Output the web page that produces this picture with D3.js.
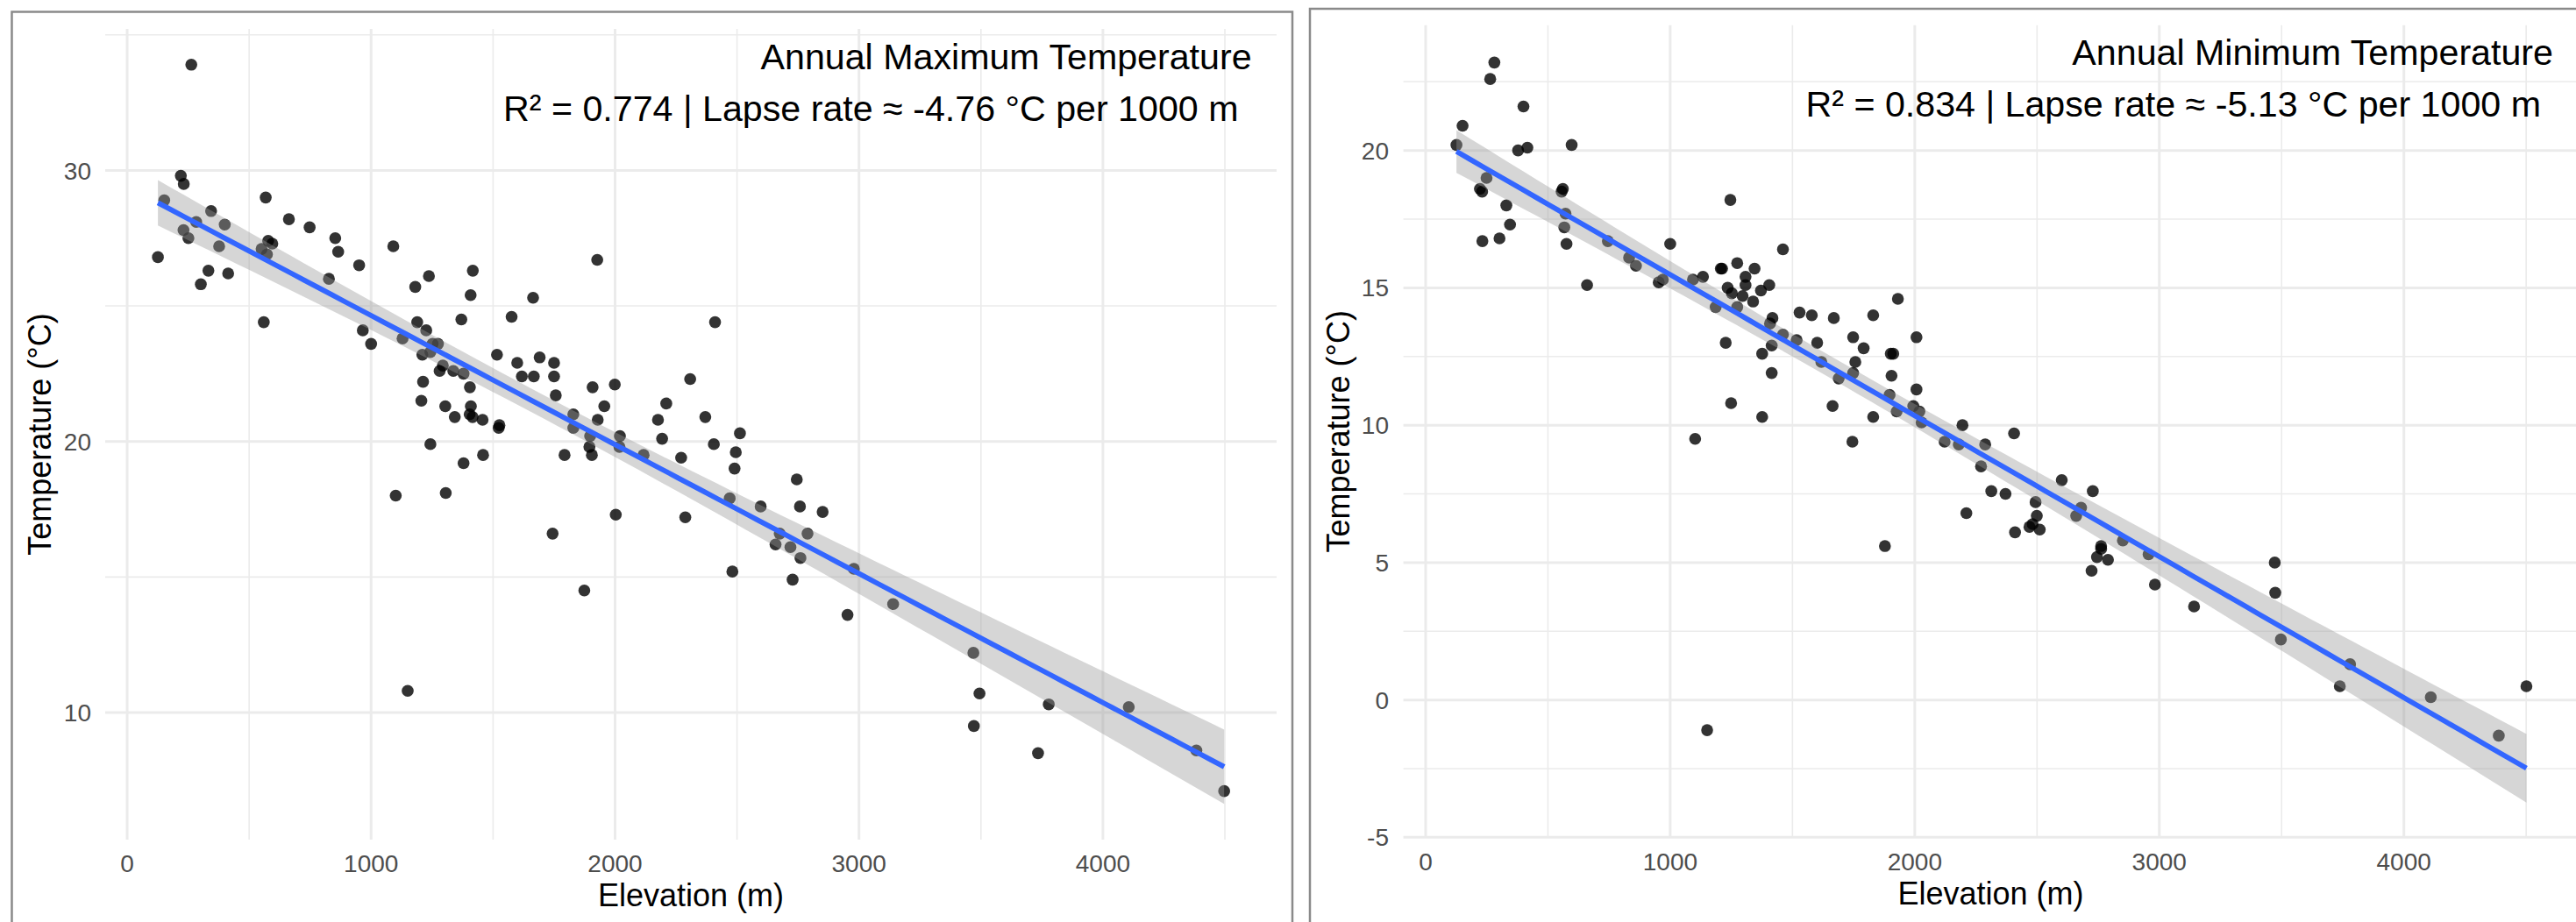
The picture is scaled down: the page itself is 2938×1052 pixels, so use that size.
<!DOCTYPE html>
<html>
<head>
<meta charset="utf-8">
<script src="https://cdnjs.cloudflare.com/ajax/libs/d3/7.8.5/d3.min.js"></script>
<style>
  body { margin: 0; background: #fff; }
  svg { display: block; font-family: "Liberation Sans", Arial, sans-serif; }
  .frame { fill: none; stroke: #8a8a8a; stroke-width: 2.5px; }
  .grid-major { stroke: #ebebeb; stroke-width: 3px; }
  .grid-minor { stroke: #ebebeb; stroke-width: 1.6px; }
  .tick-label { fill: #4d4d4d; font-size: 28px; }
  .axis-title { fill: #000; font-size: 36px; }
  .note { fill: #000; font-size: 41.2px; }
</style>
</head>
<body>
<div id="chart"></div>
<script>
// station elevations (m) and annual temperatures (°C)
const maxElev = [263, 220, 232, 152, 126, 283, 231, 251, 344, 400, 377, 333, 302, 414, 568, 663, 748, 578, 595, 551,
  573, 853, 865, 1091, 951, 827, 560, 1927, 1181, 1237, 1417, 1408, 1664, 966, 1000, 1129, 1370, 1189, 1226, 1576,
  1252, 1274, 1210, 1243, 1294, 1281, 1337, 1379, 1516, 1599, 1691, 1750, 1618, 1667, 1750, 1213, 1405, 1757, 1206, 1304,
  1343, 1409, 1404, 1416, 1457, 1523, 1526, 1243, 1459, 1379, 1829, 1829, 1908, 1999, 1956, 1929, 1898, 2020, 2018, 1895,
  1905, 1793, 2117, 2410, 2308, 2210, 2176, 2370, 2193, 2405, 2512, 2495, 2271, 1101, 1306, 1744, 2003, 1874, 1150, 2490,
  2745, 2470, 2597, 2758, 2851, 2288, 2675, 2658, 2719, 2789, 2760, 2481, 2728, 2979, 2953, 3140, 3469, 3494, 3471, 3778,
  3734, 4106, 4383, 4497];
const maxTemp = [33.9, 29.8, 29.5, 28.9, 26.8, 28.1, 27.8, 27.5, 28.5, 28.0, 27.2, 26.3, 25.8, 26.2, 29.0, 28.2, 27.9, 27.4, 27.3, 27.1,
  26.9, 27.5, 27.0, 27.2, 26.5, 26.0, 24.4, 26.7, 25.7, 26.1, 26.3, 25.4, 25.3, 24.1, 23.6, 23.8, 24.5, 24.4, 24.1, 24.6,
  23.6, 23.6, 23.2, 23.3, 22.8, 22.6, 22.6, 22.5, 23.2, 22.9, 23.1, 22.9, 22.4, 22.4, 22.4, 22.2, 22.0, 21.7, 21.5, 21.3,
  20.9, 21.3, 21.0, 20.9, 20.8, 20.5, 20.6, 19.9, 19.5, 19.2, 21.0, 20.5, 22.0, 22.1, 21.3, 20.8, 20.2, 20.2, 19.8, 19.8,
  19.5, 19.5, 19.5, 24.4, 22.3, 21.4, 20.8, 20.9, 20.1, 19.9, 20.3, 19.6, 19.4, 18.0, 18.1, 16.6, 17.3, 14.5, 10.8, 19.0,
  18.6, 17.9, 17.6, 17.6, 17.4, 17.2, 16.6, 16.2, 16.1, 16.6, 15.7, 15.2, 14.9, 15.3, 13.6, 14.0, 12.2, 10.7, 9.5, 10.3,
  8.5, 10.2, 8.6, 7.1];

const minElev = [281, 264, 400, 151, 126, 378, 416, 597, 249, 222, 231, 330, 345, 232, 302, 561, 556, 572, 567, 576,
  660, 745, 832, 860, 953, 970, 1000, 1093, 1134, 1102, 1186, 1207, 1212, 1246, 1274, 1235, 1252, 1296, 1274, 1308,
  1308, 1345, 1339, 1371, 1405, 1461, 1227, 1249, 1376, 1376, 1415, 1415, 1418, 1408, 1461, 1529, 1579, 1517, 1601, 1618,
  1669, 1689, 1664, 1748, 1757, 1748, 1791, 1830, 1830, 1745, 1931, 1902, 1912, 1905, 1897, 1926, 2007, 2007, 1994, 2019,
  2028, 2195, 2122, 2180, 2288, 2406, 1878, 1151, 2271, 2313, 2371, 2211, 2601, 2728, 2494, 2680, 2660, 2499, 2482, 2469,
  2511, 2410, 2851, 2762, 2762, 2745, 2790, 2723, 2956, 2982, 3142, 3472, 3474, 3497, 3780, 3738, 4110, 4388, 4501];
const minTemp = [23.2, 22.6, 21.6, 20.9, 20.2, 20.0, 20.1, 20.2, 19.0, 18.6, 18.5, 18.0, 17.3, 16.7, 16.8, 18.6, 18.5, 17.7, 17.2, 16.6,
  15.1, 16.7, 16.1, 15.8, 15.2, 15.3, 16.6, 15.3, 15.4, 9.5, 14.3, 15.7, 15.7, 18.2, 15.9, 15.0, 14.8, 14.7, 14.3, 15.4,
  15.1, 15.7, 14.5, 14.9, 15.1, 16.4, 13.0, 10.8, 10.3, 12.6, 12.9, 11.9, 13.9, 13.7, 13.3, 14.1, 14.0, 13.1, 13.0, 12.3,
  13.9, 11.7, 10.7, 13.2, 12.3, 11.9, 12.8, 14.0, 10.3, 9.4, 14.6, 12.6, 12.6, 11.8, 11.1, 10.5, 13.2, 11.3, 10.7, 10.5,
  10.1, 10.0, 9.4, 9.3, 9.3, 9.7, 5.6, -1.1, 8.5, 7.6, 7.5, 6.8, 8.0, 7.6, 7.2, 7.0, 6.7, 6.7, 6.4, 6.3,
  6.2, 6.1, 5.8, 5.6, 5.5, 5.2, 5.1, 4.7, 5.3, 4.2, 3.4, 5.0, 3.9, 2.2, 1.3, 0.5, 0.1, -1.3, 0.5];

const elevTicks = [0, 1000, 2000, 3000, 4000];
const elevMinor = [500, 1500, 2500, 3500, 4500];
const maxTicks = [10, 20, 30];
const maxMinor = [15, 25, 35];
const minTicks = [-5, 0, 5, 10, 15, 20];
const minMinor = [-2.5, 2.5, 7.5, 12.5, 17.5, 22.5];
const titles = ["Annual Maximum Temperature", "Annual Minimum Temperature"];
const stats = ["R\u00b2 = 0.774 | Lapse rate \u2248 -4.76 \u00b0C per 1000 m",
               "R\u00b2 = 0.834 | Lapse rate \u2248 -5.13 \u00b0C per 1000 m"];

const width = 2938, height = 1052;
const tCrit = 1.98; // t quantile for 95% band, ~118 df

const svg = d3.select("#chart").append("svg")
    .attr("width", width)
    .attr("height", height);

const panels = [
    { elev: maxElev, temp: maxTemp, ticks: maxTicks, minor: maxMinor, title: titles[0], stat: stats[0],
      frame: { left: 13.5, top: 13.5, right: 1474 },
      plot: { left: 120, right: 1456, top: 33, bottom: 958 },
      xDomain: [-90, 4712], yDomain: [5.31, 35.22],
      yLabelX: 104, yTitleX: 58, xLabelY: 995, xTitleY: 1034,
      titleX: 1427.6, titleY: 79, statX: 1412.5, statY: 138.3 },
    { elev: minElev, temp: minTemp, ticks: minTicks, minor: minMinor, title: titles[1], stat: stats[1],
      frame: { left: 1494, top: 10, right: 2990 },
      plot: { left: 1600.6, right: 2940.3, top: 28.7, bottom: 956 },
      xDomain: [-91, 4712], yDomain: [-5.02, 24.56],
      yLabelX: 1584, yTitleX: 1539, xLabelY: 993, xTitleY: 1032,
      titleX: 2912, titleY: 74, statX: 2898, statY: 133 }
];

function fitLine(xs, ys) {
    const n = xs.length, mx = d3.mean(xs), my = d3.mean(ys);
    let sxx = 0, sxy = 0;
    xs.forEach((x, i) => { sxx += (x - mx) ** 2; sxy += (x - mx) * (ys[i] - my); });
    const b = sxy / sxx, a = my - b * mx;
    const sse = d3.sum(xs, (x, i) => (ys[i] - a - b * x) ** 2);
    const s = Math.sqrt(sse / (n - 2));
    return { a, b, s, n, mx, sxx };
}

panels.forEach(p => {
    const g = svg.append("g");
    const x = d3.scaleLinear().domain(p.xDomain).range([p.plot.left, p.plot.right]);
    const y = d3.scaleLinear().domain(p.yDomain).range([p.plot.bottom, p.plot.top]);

    g.append("rect")
        .attr("class", "frame")
        .attr("x", p.frame.left)
        .attr("y", p.frame.top)
        .attr("width", p.frame.right - p.frame.left)
        .attr("height", height + 20 - p.frame.top);

    // grid
    g.selectAll(".hminor").data(p.minor).enter().append("line")
        .attr("class", "grid-minor")
        .attr("x1", p.plot.left).attr("x2", p.plot.right)
        .attr("y1", d => y(d)).attr("y2", d => y(d));
    g.selectAll(".vminor").data(elevMinor).enter().append("line")
        .attr("class", "grid-minor")
        .attr("y1", p.plot.top).attr("y2", p.plot.bottom)
        .attr("x1", d => x(d)).attr("x2", d => x(d));
    g.selectAll(".hmajor").data(p.ticks).enter().append("line")
        .attr("class", "grid-major")
        .attr("x1", p.plot.left).attr("x2", p.plot.right)
        .attr("y1", d => y(d)).attr("y2", d => y(d));
    g.selectAll(".vmajor").data(elevTicks).enter().append("line")
        .attr("class", "grid-major")
        .attr("y1", p.plot.top).attr("y2", p.plot.bottom)
        .attr("x1", d => x(d)).attr("x2", d => x(d));

    // points
    g.selectAll("circle").data(p.elev).enter().append("circle")
        .attr("cx", d => x(d))
        .attr("cy", (d, i) => y(p.temp[i]))
        .attr("r", 6.8)
        .attr("fill", "#000")
        .attr("fill-opacity", 0.8);

    // linear fit with 95% confidence band
    const fit = fitLine(p.elev, p.temp);
    const [lo, hi] = d3.extent(p.elev);
    const band = d3.range(81).map(i => {
        const e = lo + (hi - lo) * i / 80;
        const m = fit.a + fit.b * e;
        const se = fit.s * Math.sqrt(1 / fit.n + (e - fit.mx) ** 2 / fit.sxx);
        return { e, m, l: m - tCrit * se, u: m + tCrit * se };
    });

    g.append("path")
        .datum(band)
        .attr("fill", "#999999")
        .attr("fill-opacity", 0.4)
        .attr("d", d3.area().x(d => x(d.e)).y0(d => y(d.l)).y1(d => y(d.u)));

    g.append("path")
        .datum(band)
        .attr("fill", "none")
        .attr("stroke", "#3366ff")
        .attr("stroke-width", 5.8)
        .attr("d", d3.line().x(d => x(d.e)).y(d => y(d.m)));

    // tick labels
    g.selectAll(".ylab").data(p.ticks).enter().append("text")
        .attr("class", "tick-label")
        .attr("x", p.yLabelX)
        .attr("y", d => y(d))
        .attr("dy", "0.36em")
        .attr("text-anchor", "end")
        .text(d => d);
    g.selectAll(".xlab").data(elevTicks).enter().append("text")
        .attr("class", "tick-label")
        .attr("x", d => x(d))
        .attr("y", p.xLabelY)
        .attr("text-anchor", "middle")
        .text(d => d);

    // axis titles
    g.append("text")
        .attr("class", "axis-title")
        .attr("x", (p.plot.left + p.plot.right) / 2)
        .attr("y", p.xTitleY)
        .attr("text-anchor", "middle")
        .text("Elevation (m)");
    g.append("text")
        .attr("class", "axis-title")
        .attr("transform", `translate(${p.yTitleX},${(p.plot.top + p.plot.bottom) / 2}) rotate(-90)`)
        .attr("text-anchor", "middle")
        .text("Temperature (\u00b0C)");

    // annotations
    g.append("text")
        .attr("class", "note")
        .attr("x", p.titleX)
        .attr("y", p.titleY)
        .attr("text-anchor", "end")
        .text(p.title);
    g.append("text")
        .attr("class", "note")
        .attr("x", p.statX)
        .attr("y", p.statY)
        .attr("text-anchor", "end")
        .text(p.stat);
});
</script>
</body>
</html>
